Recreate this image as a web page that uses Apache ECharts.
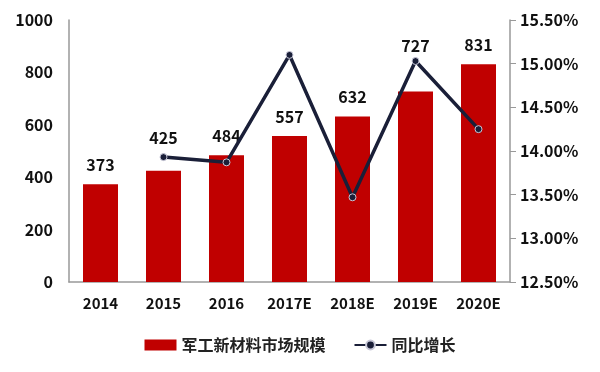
<!DOCTYPE html>
<html><head><meta charset="utf-8">
<script src="https://cdn.jsdelivr.net/npm/echarts@6/dist/echarts.min.js"></script>
<style>html,body{margin:0;padding:0;background:#fff}#c{width:600px;height:372px}</style>
</head><body><div id="c"></div>
<script>
var categories = ['2014','2015','2016','2017E','2018E','2019E','2020E'];
var marketSize = [373,425,484,557,632,727,831];
var yoyGrowth = [null,13.93,13.87,15.10,13.47,15.03,14.25];
var leftTicks = [0,200,400,600,800,1000];
var rightTicks = [12.5,13.0,13.5,14.0,14.5,15.0,15.5];

var font = '"Noto Sans CJK SC","Noto Sans",sans-serif';
var labelDist = [11,25,11,11,11,38,11];
var chart = echarts.init(document.getElementById('c'));
chart.setOption({
  animation:false,
  grid:{left:69,right:90,top:20,bottom:90},
  legend:{
    bottom:14,left:'center',itemGap:28,
    textStyle:{fontFamily:font,fontSize:16,fontWeight:'bold',color:'#222'},
    data:[
      {name:'军工新材料市场规模',icon:'rect',itemStyle:{color:'#C00000'}},
      {name:'同比增长'}
    ],
    itemWidth:32,itemHeight:11
  },
  xAxis:{type:'category',data:categories,
    axisLine:{lineStyle:{color:'#999',width:1.5}},axisTick:{show:false},
    axisLabel:{fontFamily:font,fontSize:15,fontWeight:'bold',color:'#111',margin:14}},
  yAxis:[
    {type:'value',min:leftTicks[0],max:leftTicks[leftTicks.length-1],interval:200,
     splitLine:{show:false},axisLine:{show:true,lineStyle:{color:'#999',width:1.5}},axisTick:{show:false},
     axisLabel:{fontFamily:font,fontSize:16,fontWeight:'bold',color:'#111',margin:16,
       formatter:function(v){return String(v);}}},
    {type:'value',min:rightTicks[0],max:rightTicks[rightTicks.length-1],interval:0.5,position:'right',
     splitLine:{show:false},axisLine:{show:true,lineStyle:{color:'#999',width:1.5}},
     axisTick:{show:true,length:6,lineStyle:{color:'#999'}},
     axisLabel:{fontFamily:font,fontSize:16,fontWeight:'bold',color:'#111',margin:10,
       formatter:function(v){return v.toFixed(2)+'%';}}}
  ],
  series:[
    {name:'军工新材料市场规模',type:'bar',barWidth:35,
     itemStyle:{color:'#C00000'},
     data:marketSize.map(function(v,i){return {value:v,label:{distance:labelDist[i]}};}),
     label:{show:true,position:'top',fontFamily:font,fontSize:16,fontWeight:'bold',color:'#111'}},
    {name:'同比增长',type:'line',yAxisIndex:1,data:yoyGrowth,
     lineStyle:{color:'#1a1f38',width:3.5},itemStyle:{color:'#1a1f38',borderColor:'#c8c8d8',borderWidth:1},
     symbol:'circle',symbolSize:7,z:5}
  ]
});
</script></body></html>
